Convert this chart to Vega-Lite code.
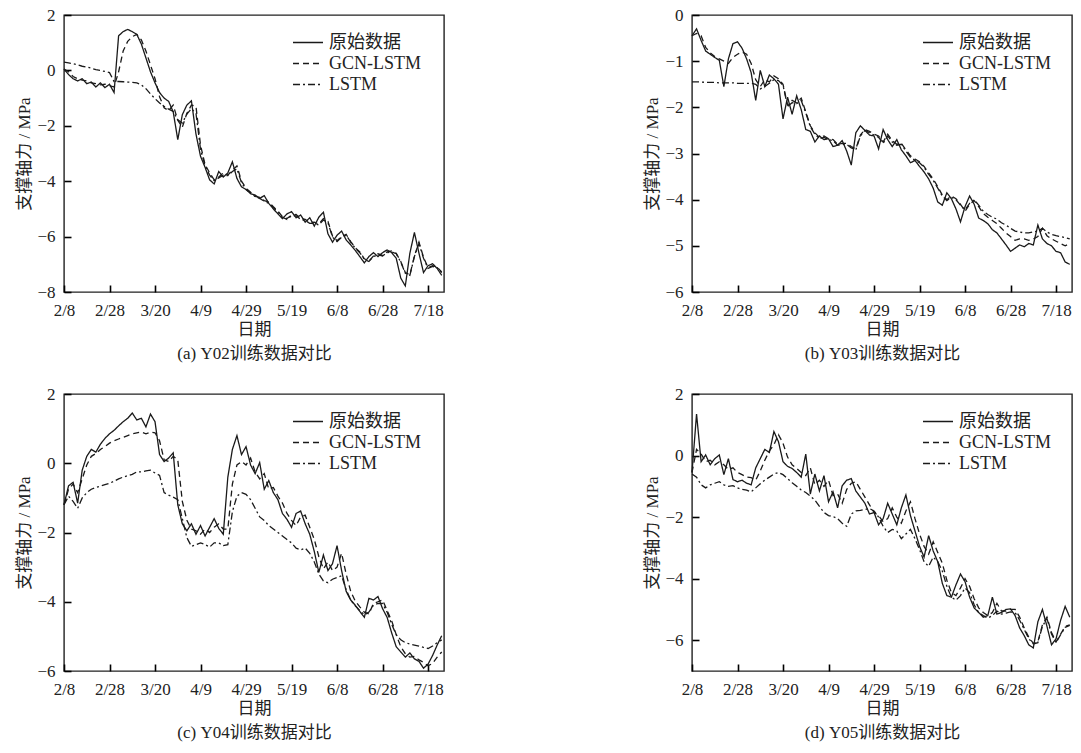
{
"$schema": "https://vega.github.io/schema/vega-lite/v6.json",
"background": "white",
"padding": {"left": 15, "top": 5, "right": 5, "bottom": 5},
"config": {
  "font": "Liberation Serif, Noto Sans CJK SC",
  "view": {"stroke": "#222222", "strokeWidth": 1.4},
  "axis": {"grid": false, "zindex": 2, "domain": false, "offset": -7, "ticks": true, "tickColor": "#000000", "tickOpacity": 1, "tickWidth": 1.6, "tickSize": 7,
    "labelFont": "Liberation Serif, Noto Sans CJK SC", "labelFontSize": 17, "labelColor": "#222222",
    "titleFont": "Liberation Serif, Noto Sans CJK SC", "titleFontSize": 17, "titleFontWeight": "normal", "titleColor": "#222222"},
  "axisX": {"labelPadding": 10, "titlePadding": 3, "titleLineHeight": 24, "labelFlush": false},
  "axisY": {"labelPadding": 9, "titlePadding": 3},
  "legend": {"symbolType": "stroke", "symbolSize": 900, "symbolStrokeWidth": 1.3, "symbolStrokeColor": "#1a1a1a", "clipHeight": 19, "rowPadding": 2,
    "labelFont": "Liberation Serif, Noto Sans CJK SC", "labelFontSize": 18, "labelColor": "#222222", "labelOffset": 5}
},
"datasets": {
"a": [
{"date":"2021-02-08","raw":0.05,"gcn":0.05,"lstm":0.30},
{"date":"2021-02-10","raw":-0.15,"gcn":-0.05,"lstm":0.27},
{"date":"2021-02-12","raw":-0.30,"gcn":-0.22,"lstm":0.24},
{"date":"2021-02-14","raw":-0.38,"gcn":-0.30,"lstm":0.20},
{"date":"2021-02-16","raw":-0.30,"gcn":-0.35,"lstm":0.15},
{"date":"2021-02-18","raw":-0.48,"gcn":-0.38,"lstm":0.12},
{"date":"2021-02-20","raw":-0.42,"gcn":-0.45,"lstm":0.08},
{"date":"2021-02-22","raw":-0.60,"gcn":-0.48,"lstm":0.03},
{"date":"2021-02-24","raw":-0.45,"gcn":-0.52,"lstm":0.00},
{"date":"2021-02-26","raw":-0.62,"gcn":-0.50,"lstm":-0.04},
{"date":"2021-02-28","raw":-0.50,"gcn":-0.55,"lstm":-0.08},
{"date":"2021-03-02","raw":-0.80,"gcn":-0.60,"lstm":-0.40},
{"date":"2021-03-04","raw":1.25,"gcn":-0.05,"lstm":-0.40},
{"date":"2021-03-06","raw":1.40,"gcn":0.70,"lstm":-0.41},
{"date":"2021-03-08","raw":1.48,"gcn":1.05,"lstm":-0.42},
{"date":"2021-03-10","raw":1.40,"gcn":1.22,"lstm":-0.43},
{"date":"2021-03-12","raw":1.30,"gcn":1.30,"lstm":-0.45},
{"date":"2021-03-14","raw":0.95,"gcn":1.10,"lstm":-0.52},
{"date":"2021-03-16","raw":0.45,"gcn":0.70,"lstm":-0.66},
{"date":"2021-03-18","raw":-0.05,"gcn":0.20,"lstm":-0.85},
{"date":"2021-03-20","raw":-0.45,"gcn":-0.30,"lstm":-1.02},
{"date":"2021-03-22","raw":-0.80,"gcn":-0.95,"lstm":-1.18},
{"date":"2021-03-24","raw":-1.00,"gcn":-1.35,"lstm":-1.30},
{"date":"2021-03-26","raw":-1.12,"gcn":-1.45,"lstm":-1.40},
{"date":"2021-03-28","raw":-1.50,"gcn":-1.25,"lstm":-1.48},
{"date":"2021-03-30","raw":-2.50,"gcn":-1.80,"lstm":-1.78},
{"date":"2021-04-01","raw":-1.60,"gcn":-2.05,"lstm":-1.90},
{"date":"2021-04-03","raw":-1.25,"gcn":-1.55,"lstm":-1.58},
{"date":"2021-04-05","raw":-1.10,"gcn":-1.25,"lstm":-1.38},
{"date":"2021-04-07","raw":-2.30,"gcn":-1.30,"lstm":-1.55},
{"date":"2021-04-09","raw":-3.10,"gcn":-2.70,"lstm":-2.85},
{"date":"2021-04-11","raw":-3.50,"gcn":-3.40,"lstm":-3.45},
{"date":"2021-04-13","raw":-3.95,"gcn":-3.70,"lstm":-3.78},
{"date":"2021-04-15","raw":-4.10,"gcn":-3.95,"lstm":-3.98},
{"date":"2021-04-17","raw":-3.65,"gcn":-3.85,"lstm":-3.88},
{"date":"2021-04-19","raw":-3.85,"gcn":-3.70,"lstm":-3.78},
{"date":"2021-04-21","raw":-3.70,"gcn":-3.78,"lstm":-3.80},
{"date":"2021-04-23","raw":-3.30,"gcn":-3.60,"lstm":-3.65},
{"date":"2021-04-25","raw":-3.90,"gcn":-3.45,"lstm":-3.55},
{"date":"2021-04-27","raw":-4.20,"gcn":-4.00,"lstm":-4.05},
{"date":"2021-04-29","raw":-4.30,"gcn":-4.25,"lstm":-4.30},
{"date":"2021-05-01","raw":-4.45,"gcn":-4.40,"lstm":-4.42},
{"date":"2021-05-03","raw":-4.50,"gcn":-4.55,"lstm":-4.55},
{"date":"2021-05-05","raw":-4.62,"gcn":-4.58,"lstm":-4.62},
{"date":"2021-05-07","raw":-4.52,"gcn":-4.70,"lstm":-4.72},
{"date":"2021-05-09","raw":-4.80,"gcn":-4.75,"lstm":-4.80},
{"date":"2021-05-11","raw":-5.00,"gcn":-4.92,"lstm":-4.95},
{"date":"2021-05-13","raw":-5.18,"gcn":-5.08,"lstm":-5.12},
{"date":"2021-05-15","raw":-5.35,"gcn":-5.28,"lstm":-5.30},
{"date":"2021-05-17","raw":-5.18,"gcn":-5.35,"lstm":-5.38},
{"date":"2021-05-19","raw":-5.10,"gcn":-5.22,"lstm":-5.25},
{"date":"2021-05-21","raw":-5.32,"gcn":-5.20,"lstm":-5.25},
{"date":"2021-05-23","raw":-5.22,"gcn":-5.35,"lstm":-5.38},
{"date":"2021-05-25","raw":-5.48,"gcn":-5.38,"lstm":-5.42},
{"date":"2021-05-27","raw":-5.32,"gcn":-5.50,"lstm":-5.52},
{"date":"2021-05-29","raw":-5.62,"gcn":-5.48,"lstm":-5.52},
{"date":"2021-05-31","raw":-5.30,"gcn":-5.55,"lstm":-5.58},
{"date":"2021-06-02","raw":-5.12,"gcn":-5.35,"lstm":-5.40},
{"date":"2021-06-04","raw":-5.90,"gcn":-5.45,"lstm":-5.50},
{"date":"2021-06-06","raw":-6.20,"gcn":-5.98,"lstm":-6.02},
{"date":"2021-06-08","raw":-5.95,"gcn":-6.15,"lstm":-6.18},
{"date":"2021-06-10","raw":-5.80,"gcn":-6.00,"lstm":-6.02},
{"date":"2021-06-12","raw":-6.12,"gcn":-5.92,"lstm":-5.95},
{"date":"2021-06-14","raw":-6.30,"gcn":-6.18,"lstm":-6.20},
{"date":"2021-06-16","raw":-6.50,"gcn":-6.40,"lstm":-6.42},
{"date":"2021-06-18","raw":-6.72,"gcn":-6.55,"lstm":-6.58},
{"date":"2021-06-20","raw":-6.95,"gcn":-6.80,"lstm":-6.82},
{"date":"2021-06-22","raw":-6.72,"gcn":-6.88,"lstm":-6.90},
{"date":"2021-06-24","raw":-6.58,"gcn":-6.70,"lstm":-6.72},
{"date":"2021-06-26","raw":-6.72,"gcn":-6.62,"lstm":-6.65},
{"date":"2021-06-28","raw":-6.58,"gcn":-6.68,"lstm":-6.70},
{"date":"2021-06-30","raw":-6.48,"gcn":-6.55,"lstm":-6.58},
{"date":"2021-07-02","raw":-6.58,"gcn":-6.52,"lstm":-6.55},
{"date":"2021-07-04","raw":-6.78,"gcn":-6.60,"lstm":-6.62},
{"date":"2021-07-06","raw":-7.50,"gcn":-6.90,"lstm":-6.92},
{"date":"2021-07-08","raw":-7.78,"gcn":-7.30,"lstm":-7.32},
{"date":"2021-07-10","raw":-6.60,"gcn":-7.38,"lstm":-7.40},
{"date":"2021-07-12","raw":-5.85,"gcn":-6.70,"lstm":-6.72},
{"date":"2021-07-14","raw":-6.60,"gcn":-6.20,"lstm":-6.25},
{"date":"2021-07-16","raw":-7.30,"gcn":-6.75,"lstm":-6.78},
{"date":"2021-07-18","raw":-7.05,"gcn":-7.12,"lstm":-7.15},
{"date":"2021-07-20","raw":-6.98,"gcn":-7.05,"lstm":-7.08},
{"date":"2021-07-22","raw":-7.15,"gcn":-7.10,"lstm":-7.12},
{"date":"2021-07-24","raw":-7.40,"gcn":-7.28,"lstm":-7.30}
],
"b": [
{"date":"2021-02-08","raw":-0.45,"gcn":-0.45,"lstm":-1.45},
{"date":"2021-02-10","raw":-0.30,"gcn":-0.40,"lstm":-1.45},
{"date":"2021-02-12","raw":-0.55,"gcn":-0.45,"lstm":-1.45},
{"date":"2021-02-14","raw":-0.78,"gcn":-0.70,"lstm":-1.46},
{"date":"2021-02-16","raw":-0.85,"gcn":-0.82,"lstm":-1.46},
{"date":"2021-02-18","raw":-0.92,"gcn":-0.90,"lstm":-1.46},
{"date":"2021-02-20","raw":-0.98,"gcn":-0.95,"lstm":-1.47},
{"date":"2021-02-22","raw":-1.55,"gcn":-1.00,"lstm":-1.47},
{"date":"2021-02-24","raw":-0.95,"gcn":-1.05,"lstm":-1.47},
{"date":"2021-02-26","raw":-0.62,"gcn":-0.92,"lstm":-1.47},
{"date":"2021-02-28","raw":-0.58,"gcn":-0.85,"lstm":-1.48},
{"date":"2021-03-02","raw":-0.72,"gcn":-0.80,"lstm":-1.48},
{"date":"2021-03-04","raw":-0.95,"gcn":-0.85,"lstm":-1.48},
{"date":"2021-03-06","raw":-1.25,"gcn":-1.05,"lstm":-1.48},
{"date":"2021-03-08","raw":-1.85,"gcn":-1.40,"lstm":-1.50},
{"date":"2021-03-10","raw":-1.20,"gcn":-1.55,"lstm":-1.60},
{"date":"2021-03-12","raw":-1.55,"gcn":-1.40,"lstm":-1.55},
{"date":"2021-03-14","raw":-1.30,"gcn":-1.45,"lstm":-1.48},
{"date":"2021-03-16","raw":-1.38,"gcn":-1.32,"lstm":-1.40},
{"date":"2021-03-18","raw":-1.50,"gcn":-1.38,"lstm":-1.42},
{"date":"2021-03-20","raw":-2.25,"gcn":-1.50,"lstm":-1.52},
{"date":"2021-03-22","raw":-1.78,"gcn":-1.95,"lstm":-1.98},
{"date":"2021-03-24","raw":-2.15,"gcn":-1.85,"lstm":-1.90},
{"date":"2021-03-26","raw":-1.75,"gcn":-1.90,"lstm":-1.92},
{"date":"2021-03-28","raw":-2.05,"gcn":-1.80,"lstm":-1.85},
{"date":"2021-03-30","raw":-2.48,"gcn":-2.10,"lstm":-2.12},
{"date":"2021-04-01","raw":-2.52,"gcn":-2.40,"lstm":-2.42},
{"date":"2021-04-03","raw":-2.75,"gcn":-2.55,"lstm":-2.58},
{"date":"2021-04-05","raw":-2.62,"gcn":-2.65,"lstm":-2.68},
{"date":"2021-04-07","raw":-2.70,"gcn":-2.62,"lstm":-2.65},
{"date":"2021-04-09","raw":-2.68,"gcn":-2.68,"lstm":-2.70},
{"date":"2021-04-11","raw":-2.85,"gcn":-2.70,"lstm":-2.72},
{"date":"2021-04-13","raw":-2.82,"gcn":-2.80,"lstm":-2.82},
{"date":"2021-04-15","raw":-2.72,"gcn":-2.78,"lstm":-2.80},
{"date":"2021-04-17","raw":-2.95,"gcn":-2.78,"lstm":-2.80},
{"date":"2021-04-19","raw":-3.25,"gcn":-2.85,"lstm":-2.88},
{"date":"2021-04-21","raw":-2.55,"gcn":-2.90,"lstm":-2.92},
{"date":"2021-04-23","raw":-2.40,"gcn":-2.60,"lstm":-2.62},
{"date":"2021-04-25","raw":-2.50,"gcn":-2.48,"lstm":-2.50},
{"date":"2021-04-27","raw":-2.60,"gcn":-2.52,"lstm":-2.55},
{"date":"2021-04-29","raw":-2.62,"gcn":-2.58,"lstm":-2.60},
{"date":"2021-05-01","raw":-2.90,"gcn":-2.62,"lstm":-2.65},
{"date":"2021-05-03","raw":-2.48,"gcn":-2.75,"lstm":-2.78},
{"date":"2021-05-05","raw":-2.70,"gcn":-2.58,"lstm":-2.62},
{"date":"2021-05-07","raw":-2.85,"gcn":-2.72,"lstm":-2.75},
{"date":"2021-05-09","raw":-2.70,"gcn":-2.80,"lstm":-2.82},
{"date":"2021-05-11","raw":-2.92,"gcn":-2.78,"lstm":-2.80},
{"date":"2021-05-13","raw":-3.05,"gcn":-2.92,"lstm":-2.95},
{"date":"2021-05-15","raw":-3.20,"gcn":-3.05,"lstm":-3.08},
{"date":"2021-05-17","raw":-3.15,"gcn":-3.12,"lstm":-3.15},
{"date":"2021-05-19","raw":-3.28,"gcn":-3.18,"lstm":-3.20},
{"date":"2021-05-21","raw":-3.40,"gcn":-3.28,"lstm":-3.30},
{"date":"2021-05-23","raw":-3.55,"gcn":-3.42,"lstm":-3.45},
{"date":"2021-05-25","raw":-3.75,"gcn":-3.55,"lstm":-3.58},
{"date":"2021-05-27","raw":-4.05,"gcn":-3.72,"lstm":-3.75},
{"date":"2021-05-29","raw":-4.12,"gcn":-3.90,"lstm":-3.92},
{"date":"2021-05-31","raw":-3.85,"gcn":-4.00,"lstm":-4.02},
{"date":"2021-06-02","raw":-3.98,"gcn":-3.92,"lstm":-3.95},
{"date":"2021-06-04","raw":-4.20,"gcn":-3.98,"lstm":-4.00},
{"date":"2021-06-06","raw":-4.48,"gcn":-4.10,"lstm":-4.12},
{"date":"2021-06-08","raw":-4.15,"gcn":-4.25,"lstm":-4.22},
{"date":"2021-06-10","raw":-3.92,"gcn":-4.10,"lstm":-4.08},
{"date":"2021-06-12","raw":-4.10,"gcn":-4.02,"lstm":-4.00},
{"date":"2021-06-14","raw":-4.40,"gcn":-4.15,"lstm":-4.12},
{"date":"2021-06-16","raw":-4.45,"gcn":-4.30,"lstm":-4.25},
{"date":"2021-06-18","raw":-4.52,"gcn":-4.38,"lstm":-4.32},
{"date":"2021-06-20","raw":-4.65,"gcn":-4.45,"lstm":-4.38},
{"date":"2021-06-22","raw":-4.72,"gcn":-4.52,"lstm":-4.42},
{"date":"2021-06-24","raw":-4.85,"gcn":-4.62,"lstm":-4.50},
{"date":"2021-06-26","raw":-4.98,"gcn":-4.72,"lstm":-4.55},
{"date":"2021-06-28","raw":-5.12,"gcn":-4.80,"lstm":-4.62},
{"date":"2021-06-30","raw":-5.05,"gcn":-4.88,"lstm":-4.68},
{"date":"2021-07-02","raw":-4.98,"gcn":-4.85,"lstm":-4.70},
{"date":"2021-07-04","raw":-5.02,"gcn":-4.85,"lstm":-4.72},
{"date":"2021-07-06","raw":-4.95,"gcn":-4.88,"lstm":-4.72},
{"date":"2021-07-08","raw":-4.98,"gcn":-4.85,"lstm":-4.70},
{"date":"2021-07-10","raw":-4.55,"gcn":-4.80,"lstm":-4.68},
{"date":"2021-07-12","raw":-4.85,"gcn":-4.62,"lstm":-4.62},
{"date":"2021-07-14","raw":-4.95,"gcn":-4.78,"lstm":-4.70},
{"date":"2021-07-16","raw":-5.00,"gcn":-4.85,"lstm":-4.75},
{"date":"2021-07-18","raw":-5.12,"gcn":-4.90,"lstm":-4.78},
{"date":"2021-07-20","raw":-5.15,"gcn":-4.95,"lstm":-4.80},
{"date":"2021-07-22","raw":-5.35,"gcn":-5.00,"lstm":-4.82},
{"date":"2021-07-24","raw":-5.40,"gcn":-4.95,"lstm":-4.85}
],
"c": [
{"date":"2021-02-08","raw":-1.20,"gcn":-1.20,"lstm":-1.20},
{"date":"2021-02-10","raw":-0.65,"gcn":-0.75,"lstm":-0.95},
{"date":"2021-02-12","raw":-0.55,"gcn":-0.60,"lstm":-1.10},
{"date":"2021-02-14","raw":-1.15,"gcn":-0.85,"lstm":-1.30},
{"date":"2021-02-16","raw":-0.20,"gcn":-0.45,"lstm":-1.00},
{"date":"2021-02-18","raw":0.20,"gcn":-0.05,"lstm":-0.85},
{"date":"2021-02-20","raw":0.40,"gcn":0.20,"lstm":-0.75},
{"date":"2021-02-22","raw":0.32,"gcn":0.28,"lstm":-0.70},
{"date":"2021-02-24","raw":0.55,"gcn":0.40,"lstm":-0.66},
{"date":"2021-02-26","raw":0.72,"gcn":0.48,"lstm":-0.62},
{"date":"2021-02-28","raw":0.85,"gcn":0.58,"lstm":-0.58},
{"date":"2021-03-02","raw":0.95,"gcn":0.65,"lstm":-0.52},
{"date":"2021-03-04","raw":1.08,"gcn":0.70,"lstm":-0.45},
{"date":"2021-03-06","raw":1.20,"gcn":0.75,"lstm":-0.40},
{"date":"2021-03-08","raw":1.30,"gcn":0.80,"lstm":-0.36},
{"date":"2021-03-10","raw":1.45,"gcn":0.85,"lstm":-0.32},
{"date":"2021-03-12","raw":1.25,"gcn":0.88,"lstm":-0.25},
{"date":"2021-03-14","raw":1.30,"gcn":0.90,"lstm":-0.25},
{"date":"2021-03-16","raw":1.05,"gcn":0.85,"lstm":-0.22},
{"date":"2021-03-18","raw":1.42,"gcn":0.90,"lstm":-0.20},
{"date":"2021-03-20","raw":1.20,"gcn":0.88,"lstm":-0.28},
{"date":"2021-03-22","raw":0.25,"gcn":0.65,"lstm":-0.35},
{"date":"2021-03-24","raw":0.05,"gcn":0.10,"lstm":-0.85},
{"date":"2021-03-26","raw":0.15,"gcn":0.05,"lstm":-0.92},
{"date":"2021-03-28","raw":0.30,"gcn":0.20,"lstm":-0.98},
{"date":"2021-03-30","raw":-1.20,"gcn":0.10,"lstm":-1.05},
{"date":"2021-04-01","raw":-1.75,"gcn":-1.10,"lstm":-1.60},
{"date":"2021-04-03","raw":-1.95,"gcn":-1.65,"lstm":-2.15},
{"date":"2021-04-05","raw":-1.75,"gcn":-1.90,"lstm":-2.40},
{"date":"2021-04-07","raw":-2.05,"gcn":-1.95,"lstm":-2.35},
{"date":"2021-04-09","raw":-1.80,"gcn":-2.05,"lstm":-2.30},
{"date":"2021-04-11","raw":-2.10,"gcn":-1.90,"lstm":-2.35},
{"date":"2021-04-13","raw":-1.85,"gcn":-2.00,"lstm":-2.42},
{"date":"2021-04-15","raw":-1.60,"gcn":-1.85,"lstm":-2.30},
{"date":"2021-04-17","raw":-1.88,"gcn":-1.75,"lstm":-2.30},
{"date":"2021-04-19","raw":-2.05,"gcn":-1.90,"lstm":-2.38},
{"date":"2021-04-21","raw":-0.40,"gcn":-1.90,"lstm":-2.35},
{"date":"2021-04-23","raw":0.40,"gcn":-0.60,"lstm":-1.40},
{"date":"2021-04-25","raw":0.80,"gcn":-0.05,"lstm":-0.95},
{"date":"2021-04-27","raw":0.25,"gcn":0.05,"lstm":-0.85},
{"date":"2021-04-29","raw":0.48,"gcn":-0.05,"lstm":-0.90},
{"date":"2021-05-01","raw":-0.05,"gcn":0.15,"lstm":-1.05},
{"date":"2021-05-03","raw":-0.30,"gcn":-0.25,"lstm":-1.30},
{"date":"2021-05-05","raw":0.02,"gcn":-0.45,"lstm":-1.55},
{"date":"2021-05-07","raw":-0.75,"gcn":-0.30,"lstm":-1.65},
{"date":"2021-05-09","raw":-0.50,"gcn":-0.75,"lstm":-1.80},
{"date":"2021-05-11","raw":-0.85,"gcn":-0.70,"lstm":-1.90},
{"date":"2021-05-13","raw":-1.05,"gcn":-0.95,"lstm":-2.00},
{"date":"2021-05-15","raw":-1.45,"gcn":-1.15,"lstm":-2.10},
{"date":"2021-05-17","raw":-1.62,"gcn":-1.45,"lstm":-2.20},
{"date":"2021-05-19","raw":-1.85,"gcn":-1.65,"lstm":-2.30},
{"date":"2021-05-21","raw":-1.45,"gcn":-1.80,"lstm":-2.45},
{"date":"2021-05-23","raw":-1.38,"gcn":-1.55,"lstm":-2.50},
{"date":"2021-05-25","raw":-1.75,"gcn":-1.50,"lstm":-2.45},
{"date":"2021-05-27","raw":-2.05,"gcn":-1.85,"lstm":-2.60},
{"date":"2021-05-29","raw":-2.55,"gcn":-2.20,"lstm":-2.85},
{"date":"2021-05-31","raw":-3.15,"gcn":-2.70,"lstm":-3.20},
{"date":"2021-06-02","raw":-2.65,"gcn":-3.05,"lstm":-3.40},
{"date":"2021-06-04","raw":-3.10,"gcn":-2.85,"lstm":-3.45},
{"date":"2021-06-06","raw":-2.90,"gcn":-3.10,"lstm":-3.35},
{"date":"2021-06-08","raw":-2.38,"gcn":-3.00,"lstm":-3.30},
{"date":"2021-06-10","raw":-3.10,"gcn":-2.60,"lstm":-3.25},
{"date":"2021-06-12","raw":-3.70,"gcn":-3.20,"lstm":-3.65},
{"date":"2021-06-14","raw":-3.95,"gcn":-3.70,"lstm":-3.95},
{"date":"2021-06-16","raw":-4.10,"gcn":-3.98,"lstm":-4.12},
{"date":"2021-06-18","raw":-4.28,"gcn":-4.15,"lstm":-4.25},
{"date":"2021-06-20","raw":-4.45,"gcn":-4.30,"lstm":-4.38},
{"date":"2021-06-22","raw":-3.90,"gcn":-4.35,"lstm":-4.30},
{"date":"2021-06-24","raw":-3.95,"gcn":-4.05,"lstm":-4.10},
{"date":"2021-06-26","raw":-3.85,"gcn":-4.00,"lstm":-4.05},
{"date":"2021-06-28","raw":-4.20,"gcn":-3.95,"lstm":-4.05},
{"date":"2021-06-30","raw":-4.45,"gcn":-4.25,"lstm":-4.30},
{"date":"2021-07-02","raw":-4.90,"gcn":-4.55,"lstm":-4.65},
{"date":"2021-07-04","raw":-5.30,"gcn":-4.95,"lstm":-4.95},
{"date":"2021-07-06","raw":-5.45,"gcn":-5.30,"lstm":-5.10},
{"date":"2021-07-08","raw":-5.60,"gcn":-5.50,"lstm":-5.18},
{"date":"2021-07-10","raw":-5.48,"gcn":-5.60,"lstm":-5.22},
{"date":"2021-07-12","raw":-5.65,"gcn":-5.58,"lstm":-5.25},
{"date":"2021-07-14","raw":-5.72,"gcn":-5.68,"lstm":-5.28},
{"date":"2021-07-16","raw":-5.92,"gcn":-5.75,"lstm":-5.32},
{"date":"2021-07-18","raw":-5.80,"gcn":-5.85,"lstm":-5.35},
{"date":"2021-07-20","raw":-5.55,"gcn":-5.78,"lstm":-5.28},
{"date":"2021-07-22","raw":-5.25,"gcn":-5.60,"lstm":-5.18},
{"date":"2021-07-24","raw":-4.98,"gcn":-5.45,"lstm":-5.10}
],
"d": [
{"date":"2021-02-08","raw":-0.55,"gcn":-0.55,"lstm":-0.60},
{"date":"2021-02-10","raw":1.35,"gcn":0.20,"lstm":-0.70},
{"date":"2021-02-12","raw":-0.20,"gcn":0.05,"lstm":-0.95},
{"date":"2021-02-14","raw":0.02,"gcn":-0.20,"lstm":-1.05},
{"date":"2021-02-16","raw":-0.30,"gcn":-0.15,"lstm":-0.95},
{"date":"2021-02-18","raw":-0.10,"gcn":-0.30,"lstm":-0.90},
{"date":"2021-02-20","raw":0.02,"gcn":-0.20,"lstm":-0.85},
{"date":"2021-02-22","raw":-0.62,"gcn":-0.30,"lstm":-0.95},
{"date":"2021-02-24","raw":-0.10,"gcn":-0.45,"lstm":-1.00},
{"date":"2021-02-26","raw":-0.78,"gcn":-0.40,"lstm":-0.98},
{"date":"2021-02-28","raw":-0.85,"gcn":-0.55,"lstm":-1.05},
{"date":"2021-03-02","raw":-0.80,"gcn":-0.62,"lstm":-1.10},
{"date":"2021-03-04","raw":-0.90,"gcn":-0.70,"lstm":-1.12},
{"date":"2021-03-06","raw":-0.95,"gcn":-0.72,"lstm":-1.18},
{"date":"2021-03-08","raw":-0.40,"gcn":-0.80,"lstm":-1.05},
{"date":"2021-03-10","raw":-0.10,"gcn":-0.50,"lstm":-0.92},
{"date":"2021-03-12","raw":0.20,"gcn":-0.15,"lstm":-0.80},
{"date":"2021-03-14","raw":0.10,"gcn":0.15,"lstm":-0.70},
{"date":"2021-03-16","raw":0.78,"gcn":0.35,"lstm":-0.60},
{"date":"2021-03-18","raw":0.45,"gcn":0.68,"lstm":-0.55},
{"date":"2021-03-20","raw":-0.20,"gcn":0.40,"lstm":-0.62},
{"date":"2021-03-22","raw":-0.35,"gcn":-0.05,"lstm":-0.75},
{"date":"2021-03-24","raw":-0.42,"gcn":-0.30,"lstm":-0.88},
{"date":"2021-03-26","raw":-0.55,"gcn":-0.42,"lstm":-1.00},
{"date":"2021-03-28","raw":-0.70,"gcn":-0.55,"lstm":-1.12},
{"date":"2021-03-30","raw":0.05,"gcn":-0.65,"lstm":-1.20},
{"date":"2021-04-01","raw":-1.25,"gcn":-0.40,"lstm":-1.32},
{"date":"2021-04-03","raw":-0.60,"gcn":-0.95,"lstm":-1.45},
{"date":"2021-04-05","raw":-1.15,"gcn":-0.80,"lstm":-1.65},
{"date":"2021-04-07","raw":-0.65,"gcn":-1.00,"lstm":-1.85},
{"date":"2021-04-09","raw":-1.50,"gcn":-0.80,"lstm":-1.95},
{"date":"2021-04-11","raw":-1.18,"gcn":-1.30,"lstm":-1.98},
{"date":"2021-04-13","raw":-1.70,"gcn":-1.25,"lstm":-2.05},
{"date":"2021-04-15","raw":-0.98,"gcn":-1.55,"lstm":-2.20},
{"date":"2021-04-17","raw":-0.80,"gcn":-1.10,"lstm":-2.30},
{"date":"2021-04-19","raw":-0.75,"gcn":-0.90,"lstm":-1.90},
{"date":"2021-04-21","raw":-1.15,"gcn":-0.85,"lstm":-1.80},
{"date":"2021-04-23","raw":-1.35,"gcn":-1.10,"lstm":-1.78},
{"date":"2021-04-25","raw":-1.55,"gcn":-1.35,"lstm":-1.75},
{"date":"2021-04-27","raw":-1.90,"gcn":-1.60,"lstm":-1.72},
{"date":"2021-04-29","raw":-1.85,"gcn":-1.85,"lstm":-1.80},
{"date":"2021-05-01","raw":-2.25,"gcn":-1.95,"lstm":-2.00},
{"date":"2021-05-03","raw":-2.05,"gcn":-2.15,"lstm":-2.30},
{"date":"2021-05-05","raw":-1.55,"gcn":-2.05,"lstm":-2.50},
{"date":"2021-05-07","raw":-1.90,"gcn":-1.70,"lstm":-2.40},
{"date":"2021-05-09","raw":-2.25,"gcn":-2.00,"lstm":-2.45},
{"date":"2021-05-11","raw":-1.70,"gcn":-2.20,"lstm":-2.70},
{"date":"2021-05-13","raw":-1.28,"gcn":-1.80,"lstm":-2.55},
{"date":"2021-05-15","raw":-1.95,"gcn":-1.50,"lstm":-2.40},
{"date":"2021-05-17","raw":-2.45,"gcn":-2.05,"lstm":-2.70},
{"date":"2021-05-19","raw":-2.95,"gcn":-2.55,"lstm":-3.05},
{"date":"2021-05-21","raw":-3.30,"gcn":-2.95,"lstm":-3.45},
{"date":"2021-05-23","raw":-2.60,"gcn":-3.20,"lstm":-3.60},
{"date":"2021-05-25","raw":-3.10,"gcn":-2.80,"lstm":-3.30},
{"date":"2021-05-27","raw":-3.45,"gcn":-3.15,"lstm":-3.45},
{"date":"2021-05-29","raw":-4.15,"gcn":-3.50,"lstm":-3.75},
{"date":"2021-05-31","raw":-4.55,"gcn":-4.05,"lstm":-4.25},
{"date":"2021-06-02","raw":-4.60,"gcn":-4.45,"lstm":-4.60},
{"date":"2021-06-04","raw":-4.20,"gcn":-4.55,"lstm":-4.70},
{"date":"2021-06-06","raw":-3.85,"gcn":-4.30,"lstm":-4.55},
{"date":"2021-06-08","raw":-4.10,"gcn":-4.00,"lstm":-4.30},
{"date":"2021-06-10","raw":-4.60,"gcn":-4.25,"lstm":-4.45},
{"date":"2021-06-12","raw":-4.95,"gcn":-4.65,"lstm":-4.85},
{"date":"2021-06-14","raw":-5.10,"gcn":-4.95,"lstm":-5.10},
{"date":"2021-06-16","raw":-5.25,"gcn":-5.10,"lstm":-5.20},
{"date":"2021-06-18","raw":-5.20,"gcn":-5.20,"lstm":-5.28},
{"date":"2021-06-20","raw":-4.60,"gcn":-5.10,"lstm":-5.20},
{"date":"2021-06-22","raw":-5.15,"gcn":-4.80,"lstm":-5.05},
{"date":"2021-06-24","raw":-5.10,"gcn":-5.05,"lstm":-5.15},
{"date":"2021-06-26","raw":-5.00,"gcn":-5.05,"lstm":-5.12},
{"date":"2021-06-28","raw":-4.98,"gcn":-5.00,"lstm":-5.08},
{"date":"2021-06-30","raw":-5.20,"gcn":-5.00,"lstm":-5.10},
{"date":"2021-07-02","raw":-5.60,"gcn":-5.25,"lstm":-5.35},
{"date":"2021-07-04","raw":-5.85,"gcn":-5.60,"lstm":-5.65},
{"date":"2021-07-06","raw":-6.15,"gcn":-5.90,"lstm":-5.95},
{"date":"2021-07-08","raw":-6.25,"gcn":-6.10,"lstm":-6.12},
{"date":"2021-07-10","raw":-5.40,"gcn":-6.05,"lstm":-6.08},
{"date":"2021-07-12","raw":-5.00,"gcn":-5.50,"lstm":-5.55},
{"date":"2021-07-14","raw":-5.55,"gcn":-5.25,"lstm":-5.30},
{"date":"2021-07-16","raw":-6.15,"gcn":-5.75,"lstm":-5.80},
{"date":"2021-07-18","raw":-5.95,"gcn":-6.05,"lstm":-6.08},
{"date":"2021-07-20","raw":-5.35,"gcn":-5.80,"lstm":-5.82},
{"date":"2021-07-22","raw":-4.90,"gcn":-5.55,"lstm":-5.58},
{"date":"2021-07-24","raw":-5.25,"gcn":-5.50,"lstm":-5.52}
]
},
"columns": 2,
"spacing": {"row": 22, "column": 197},
"resolve": {"scale": {"strokeDash": "independent"}, "legend": {"strokeDash": "independent"}},
"concat": [
{
  "width": 380, "height": 277,
  "data": {"name": "a"},
  "transform": [{"fold": ["raw", "gcn", "lstm"], "as": ["series", "value"]}],
  "mark": {"type": "line", "color": "#1a1a1a", "strokeWidth": 1.3},
  "encoding": {
    "x": {"field": "date", "type": "temporal",
      "scale": {"type": "utc", "domain": [{"year":2021,"month":2,"date":8,"utc":true},{"year":2021,"month":7,"date":25,"utc":true}]},
      "axis": {"format": "%-m/%-d", "title": ["日期", "(a) Y02训练数据对比"],
        "values": [{"year":2021,"month":2,"date":8,"utc":true},{"year":2021,"month":2,"date":28,"utc":true},{"year":2021,"month":3,"date":20,"utc":true},{"year":2021,"month":4,"date":9,"utc":true},{"year":2021,"month":4,"date":29,"utc":true},{"year":2021,"month":5,"date":19,"utc":true},{"year":2021,"month":6,"date":8,"utc":true},{"year":2021,"month":6,"date":28,"utc":true},{"year":2021,"month":7,"date":18,"utc":true}]}},
    "y": {"field": "value", "type": "quantitative", "scale": {"domain": [-8, 2], "nice": false, "zero": false},
      "axis": {"values": [-8, -6, -4, -2, 0, 2], "title": "支撑轴力 / MPa"}},
    "strokeDash": {"field": "series", "type": "nominal",
      "scale": {"domain": ["raw", "gcn", "lstm"], "range": [[1, 0], [6, 4], [7, 3, 2, 3]]},
      "legend": {"title": null, "orient": "none", "legendX": 228, "legendY": 18,
        "labelExpr": "datum.value == 'raw' ? '原始数据' : datum.value == 'gcn' ? 'GCN-LSTM' : 'LSTM'"}}
  }
},
{
  "width": 380, "height": 277,
  "data": {"name": "b"},
  "transform": [{"fold": ["raw", "gcn", "lstm"], "as": ["series", "value"]}],
  "mark": {"type": "line", "color": "#1a1a1a", "strokeWidth": 1.3},
  "encoding": {
    "x": {"field": "date", "type": "temporal",
      "scale": {"type": "utc", "domain": [{"year":2021,"month":2,"date":8,"utc":true},{"year":2021,"month":7,"date":25,"utc":true}]},
      "axis": {"format": "%-m/%-d", "title": ["日期", "(b) Y03训练数据对比"],
        "values": [{"year":2021,"month":2,"date":8,"utc":true},{"year":2021,"month":2,"date":28,"utc":true},{"year":2021,"month":3,"date":20,"utc":true},{"year":2021,"month":4,"date":9,"utc":true},{"year":2021,"month":4,"date":29,"utc":true},{"year":2021,"month":5,"date":19,"utc":true},{"year":2021,"month":6,"date":8,"utc":true},{"year":2021,"month":6,"date":28,"utc":true},{"year":2021,"month":7,"date":18,"utc":true}]}},
    "y": {"field": "value", "type": "quantitative", "scale": {"domain": [-6, 0], "nice": false, "zero": false},
      "axis": {"values": [-6, -5, -4, -3, -2, -1, 0], "title": "支撑轴力 / MPa"}},
    "strokeDash": {"field": "series", "type": "nominal",
      "scale": {"domain": ["raw", "gcn", "lstm"], "range": [[1, 0], [6, 4], [7, 3, 2, 3]]},
      "legend": {"title": null, "orient": "none", "legendX": 230, "legendY": 18,
        "labelExpr": "datum.value == 'raw' ? '原始数据' : datum.value == 'gcn' ? 'GCN-LSTM' : 'LSTM'"}}
  }
},
{
  "width": 380, "height": 277,
  "data": {"name": "c"},
  "transform": [{"fold": ["raw", "gcn", "lstm"], "as": ["series", "value"]}],
  "mark": {"type": "line", "color": "#1a1a1a", "strokeWidth": 1.3},
  "encoding": {
    "x": {"field": "date", "type": "temporal",
      "scale": {"type": "utc", "domain": [{"year":2021,"month":2,"date":8,"utc":true},{"year":2021,"month":7,"date":25,"utc":true}]},
      "axis": {"format": "%-m/%-d", "title": ["日期", "(c) Y04训练数据对比"],
        "values": [{"year":2021,"month":2,"date":8,"utc":true},{"year":2021,"month":2,"date":28,"utc":true},{"year":2021,"month":3,"date":20,"utc":true},{"year":2021,"month":4,"date":9,"utc":true},{"year":2021,"month":4,"date":29,"utc":true},{"year":2021,"month":5,"date":19,"utc":true},{"year":2021,"month":6,"date":8,"utc":true},{"year":2021,"month":6,"date":28,"utc":true},{"year":2021,"month":7,"date":18,"utc":true}]}},
    "y": {"field": "value", "type": "quantitative", "scale": {"domain": [-6, 2], "nice": false, "zero": false},
      "axis": {"values": [-6, -4, -2, 0, 2], "title": "支撑轴力 / MPa"}},
    "strokeDash": {"field": "series", "type": "nominal",
      "scale": {"domain": ["raw", "gcn", "lstm"], "range": [[1, 0], [6, 4], [7, 3, 2, 3]]},
      "legend": {"title": null, "orient": "none", "legendX": 228, "legendY": 18,
        "labelExpr": "datum.value == 'raw' ? '原始数据' : datum.value == 'gcn' ? 'GCN-LSTM' : 'LSTM'"}}
  }
},
{
  "width": 380, "height": 277,
  "data": {"name": "d"},
  "transform": [{"fold": ["raw", "gcn", "lstm"], "as": ["series", "value"]}],
  "mark": {"type": "line", "color": "#1a1a1a", "strokeWidth": 1.3},
  "encoding": {
    "x": {"field": "date", "type": "temporal",
      "scale": {"type": "utc", "domain": [{"year":2021,"month":2,"date":8,"utc":true},{"year":2021,"month":7,"date":25,"utc":true}]},
      "axis": {"format": "%-m/%-d", "title": ["日期", "(d) Y05训练数据对比"],
        "values": [{"year":2021,"month":2,"date":8,"utc":true},{"year":2021,"month":2,"date":28,"utc":true},{"year":2021,"month":3,"date":20,"utc":true},{"year":2021,"month":4,"date":9,"utc":true},{"year":2021,"month":4,"date":29,"utc":true},{"year":2021,"month":5,"date":19,"utc":true},{"year":2021,"month":6,"date":8,"utc":true},{"year":2021,"month":6,"date":28,"utc":true},{"year":2021,"month":7,"date":18,"utc":true}]}},
    "y": {"field": "value", "type": "quantitative", "scale": {"domain": [-7, 2], "nice": false, "zero": false},
      "axis": {"values": [-6, -4, -2, 0, 2], "title": "支撑轴力 / MPa"}},
    "strokeDash": {"field": "series", "type": "nominal",
      "scale": {"domain": ["raw", "gcn", "lstm"], "range": [[1, 0], [6, 4], [7, 3, 2, 3]]},
      "legend": {"title": null, "orient": "none", "legendX": 230, "legendY": 18,
        "labelExpr": "datum.value == 'raw' ? '原始数据' : datum.value == 'gcn' ? 'GCN-LSTM' : 'LSTM'"}}
  }
}
]
}
